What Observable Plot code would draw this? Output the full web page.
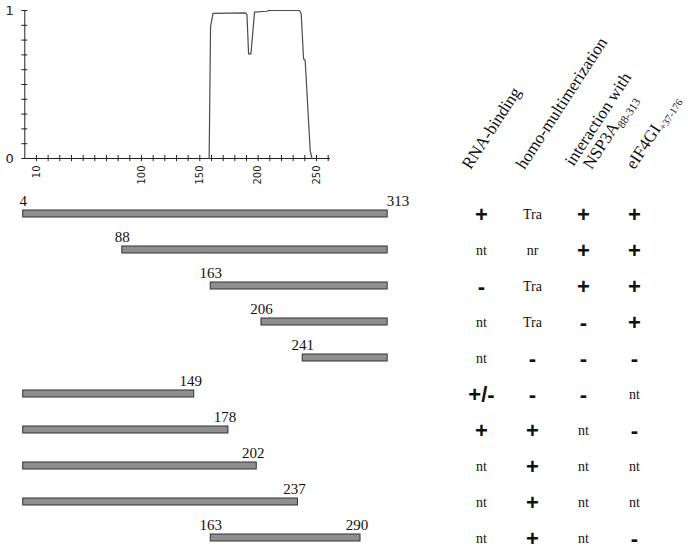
<!DOCTYPE html>
<html>
<head>
<meta charset="utf-8">
<script src="https://cdn.jsdelivr.net/npm/d3@7"></script>
<script src="https://cdn.jsdelivr.net/npm/@observablehq/plot@0.6"></script>
<style>
  body { margin: 0; background: #fff; overflow: hidden; }
  #chart { position: relative; width: 688px; height: 550px; background: #fff; }
  #chart svg { position: absolute; overflow: visible; background: transparent; }
</style>
</head>
<body>
<div id="chart"></div>
<script>
// ---------- Profile (top panel) ----------
const profileResidue = [158, 159.2, 161.3, 189, 190.4, 191.8, 193.8, 196.9, 207.5, 208.7, 235.4, 236.9, 238.9, 240.3, 244.6, 246.1];
const profileScore   = [0,   0.89,  0.98,  0.984, 0.973, 0.707, 0.707, 0.989, 0.995, 1.0,  1.0,  0.978, 0.674, 0.662, 0.054, 0];
const residueTicks = [10, 20, 30, 40, 50, 60, 70, 80, 90, 100, 110, 120, 130, 140, 150, 160, 170, 180, 190, 200, 210, 220, 230, 240, 250, 260];
const residueTickLabels = [10, 100, 150, 200, 250];
const scoreTicks = [0, 0.1, 0.2, 0.3, 0.4, 0.5, 0.6, 0.7, 0.8, 0.9, 1];
const scoreTickLabels = [0, 1];

// ---------- Constructs (bars) ----------
const constructStart = [4, 88, 163, 206, 241, 4, 4, 4, 4, 163];
const constructEnd   = [313, 313, 313, 313, 313, 149, 178, 202, 237, 290];
const startLabels    = ["4", "88", "163", "206", "241", "", "", "", "", "163"];
const endLabels      = ["313", "", "", "", "", "149", "178", "202", "237", "290"];

// ---------- Table ----------
const columnHeaders = ["RNA-binding", "homo-multimerization", "interaction with\nNSP3A_88-313", "eIF4GI_+37-176"];
const rnaBinding          = ["+", "nt", "-", "nt", "nt", "+/-", "+", "nt", "nt", "nt"];
const homoMultimerization = ["Tra", "nr", "Tra", "Tra", "-", "-", "+", "+", "+", "+"];
const nsp3aInteraction    = ["+", "+", "+", "-", "-", "-", "nt", "nt", "nt", "nt"];
const eif4giInteraction   = ["+", "+", "+", "+", "-", "nt", "-", "nt", "nt", "-"];

const chart = document.getElementById("chart");
function place(svg, left, top) {
  svg.style.left = left + "px";
  svg.style.top = top + "px";
  chart.appendChild(svg);
}

// Top profile plot
const profile = profileResidue.map((r, i) => ({residue: r, score: profileScore[i]}));
const plotA = Plot.plot({
  width: 340, height: 180,
  marginLeft: 24.3, marginRight: 10, marginTop: 10, marginBottom: 22,
  x: {domain: [0, 262], axis: null},
  y: {domain: [0, 1], axis: null},
  style: {background: "transparent", overflow: "visible"},
  marks: [
    Plot.ruleY([0], {stroke: "#222", strokeWidth: 1}),
    Plot.ruleX([0], {stroke: "#222", strokeWidth: 1}),
    Plot.ruleX(residueTicks, {x: d => d, y1: -0.021, y2: 0.021, stroke: "#222"}),
    Plot.ruleY(scoreTicks, {y: d => d, x1: -2.6, x2: 2.6, stroke: "#222"}),
    Plot.line(profile, {x: "residue", y: "score", stroke: "#4a4a4a", strokeWidth: 1.2}),
    Plot.text(scoreTickLabels, {x: 0, y: d => d, text: d => String(d), textAnchor: "end", dx: -11,
      fontFamily: "DejaVu Sans", fontSize: 13, fill: "#222"}),
    Plot.text(residueTickLabels, {x: d => d, y: 0, text: d => String(d), rotate: -90, textAnchor: "end", dy: 7,
      fontFamily: "DejaVu Sans", fontSize: 10, fill: "#222"})
  ]
});
place(plotA, 0, 0);

// Bars plot
const rows = constructStart.map((s, i) => ({row: i, start: s, end: constructEnd[i], startLabel: startLabels[i], endLabel: endLabels[i]}));
const maxEnd = d3.max(constructEnd);
const labelFont = {fontFamily: "Liberation Serif", fontSize: 15, fill: "#111", lineAnchor: "bottom", dy: -8.5};
const plotB = Plot.plot({
  width: 420, height: 370,
  marginLeft: 18, marginRight: 1, marginTop: 22, marginBottom: 1,
  x: {domain: [0, 340], axis: null},
  y: {type: "band", domain: rows.map(d => d.row), paddingInner: 0.8, paddingOuter: 0.2, axis: null},
  style: {background: "transparent", overflow: "visible"},
  marks: [
    Plot.barX(rows, {x1: "start", x2: "end", y: "row", fill: "#8e8e8e", stroke: "#333", strokeWidth: 1}),
    Plot.text(rows.filter(d => d.startLabel), {x: "start", y: "row", text: "startLabel", textAnchor: "middle", ...labelFont}),
    Plot.text(rows.filter(d => d.endLabel && d.end < maxEnd), {x: "end", y: "row", text: "endLabel", textAnchor: "middle", dx: -3.5, ...labelFont}),
    Plot.text(rows.filter(d => d.endLabel && d.end === maxEnd), {x: "end", y: "row", text: "endLabel", textAnchor: "start", dx: -1, ...labelFont})
  ]
});
place(plotB, 0, 180);

// Table plot
const columnValues = [rnaBinding, homoMultimerization, nsp3aInteraction, eif4giInteraction];
const cells = [];
columnValues.forEach((vals, j) => vals.forEach((v, i) => cells.push({row: i, col: columnHeaders[j], value: v})));
const isSymbol = v => v === "+" || v === "-" || v === "+/-";
const HEADER_DX = [-11, -8, 8, 0];
const plotC = Plot.plot({
  width: 248, height: 550,
  marginLeft: 41, marginRight: 54, marginTop: 212.8, marginBottom: 11.8,
  x: {type: "point", domain: columnHeaders, padding: 0, axis: null},
  y: {type: "point", domain: rows.map(d => d.row), padding: 0, axis: null},
  style: {background: "transparent", overflow: "visible"},
  marks: [
    Plot.text(cells.filter(d => isSymbol(d.value)), {x: "col", y: "row", text: "value",
      fontFamily: "Liberation Sans", fontWeight: "bold", fontSize: 22, fill: "#111"}),
    Plot.text(cells.filter(d => !isSymbol(d.value)), {x: "col", y: "row", text: "value",
      fontFamily: "Liberation Serif", fontSize: 14, fill: "#111"}),
    ...columnHeaders.map((h, i) => Plot.text([h], {x: d => d, text: d => d, frameAnchor: "top",
      rotate: -57, textAnchor: "start", lineAnchor: "bottom", dx: HEADER_DX[i], dy: -43,
      fontFamily: "Liberation Serif", fontSize: 17, fill: "#111"}))
  ]
});
// subscripts and indentation of the two-line header
const SVGNS = "http://www.w3.org/2000/svg";
plotC.querySelectorAll("text").forEach(t => {
  const tspans = t.querySelectorAll("tspan");
  if (tspans.length > 1) tspans[0].setAttribute("x", -7);
  const targets = tspans.length ? [...tspans] : [t];
  targets.forEach(el => {
    [...el.childNodes].forEach(node => {
      if (node.nodeType === 3 && node.textContent.includes("_")) {
        const [main, sub] = node.textContent.split("_");
        node.textContent = main;
        const s = document.createElementNS(SVGNS, "tspan");
        s.setAttribute("font-size", sub.startsWith("+") ? "0.6em" : "0.68em");
        s.setAttribute("dy", "0.35em");
        s.textContent = sub;
        el.insertBefore(s, node.nextSibling);
      }
    });
  });
});
place(plotC, 440, 0);
</script>
</body>
</html>
